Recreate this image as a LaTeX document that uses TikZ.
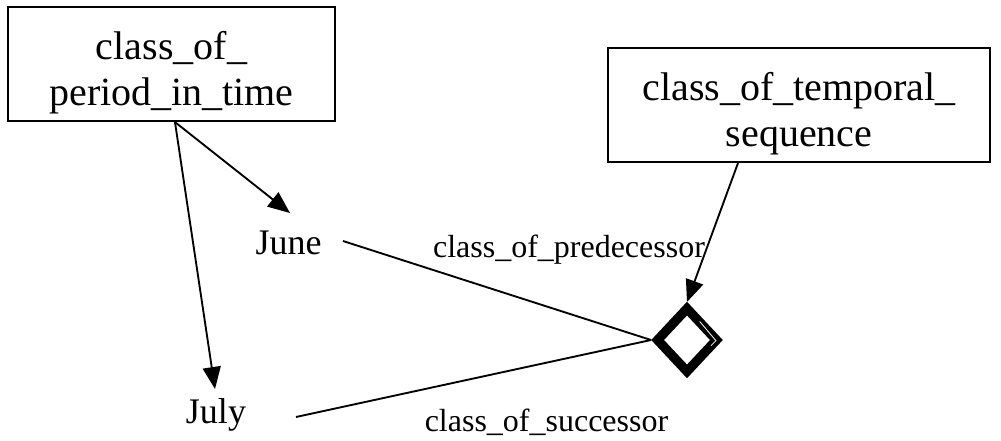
\documentclass[tikz,border=0pt]{standalone}
\usepackage{fontspec}
\setmainfont{Liberation Serif}
\usetikzlibrary{arrows.meta,shapes.geometric,calc}
\begin{document}
\begin{tikzpicture}[x=0.75pt,y=-0.75pt,
  box/.style={draw,line width=1.6pt,inner sep=0pt,align=center,
    font=\fontsize{30}{34.5}\selectfont},
  lbl/.style={inner sep=0pt,anchor=base,font=\fontsize{24}{28}\selectfont},
  month/.style={inner sep=0pt,anchor=base,font=\fontsize{27}{30}\selectfont},
  conn/.style={line width=1.4pt},
  arr/.style={conn,-{Triangle[length=16.5pt,width=13.5pt]}}]
\useasboundingbox (0,0) rectangle (1001,440);
\node[box,minimum width=245.25pt,minimum height=85.5pt] (box1) at (171.5,64)
  {\rule{0pt}{34pt}class\_of\_\\period\_in\_time};
\node[box,minimum width=286.5pt,minimum height=85.5pt] (box2) at (799,105)
  {\rule{0pt}{34pt}class\_of\_temporal\_\\sequence};
\node[month] (june) at (288.5,254) {June};
\node[month] (july) at (216,423) {July};
\node[lbl] (pred) at (569,257) {class\_of\_predecessor};
\node[lbl] (succ) at (546.5,431) {class\_of\_successor};
\node[diamond,draw,line width=7pt,inner sep=0pt,minimum width=47pt,
  minimum height=50pt] (d) at (687,340) {};
\coordinate (wa) at ($(d.north)!0.38!(d.east)+(-1,5)$);
\coordinate (wb) at ($(d.north)!0.86!(d.east)+(-2,6)$);
\draw[white,line width=0.6pt] (wa) -- (wb) -- ++(-5,5);
\coordinate (junetip) at (290,213);
\coordinate (julytip) at (215,389);
\coordinate (junestart) at (343,241);
\coordinate (julystart) at (296,417);
\draw[arr] ([xshift=2.6pt]box1.south) -- (junetip);
\draw[arr] ([xshift=2.6pt]box1.south) -- (julytip);
\draw[conn] (junestart) -- (d.west);
\draw[conn] (julystart) -- (d.west);
\draw[arr] ([xshift=-45.75pt]box2.south) -- (d.north);
\end{tikzpicture}
\end{document}
